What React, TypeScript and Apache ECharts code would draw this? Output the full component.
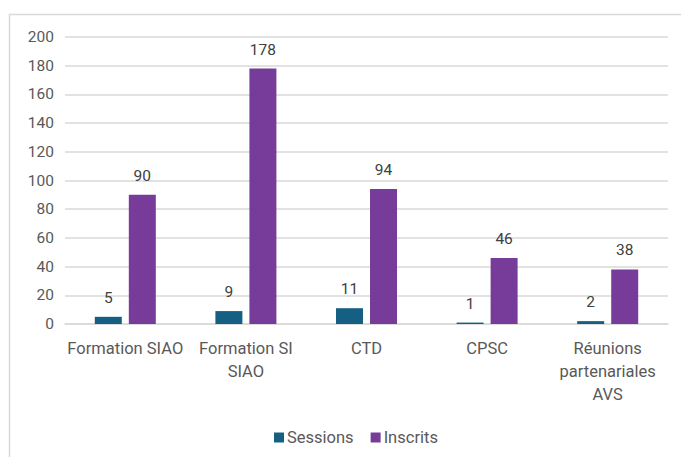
import React, { useEffect, useRef } from "react";
import * as echarts from "echarts";

const categories = ["Formation SIAO", "Formation SI\nSIAO", "CTD", "CPSC", "Réunions\npartenariales\nAVS"];
const sessions = [5, 9, 11, 1, 2];
const inscrits = [90, 178, 94, 46, 38];
const seriesNames = ["Sessions", "Inscrits"];
const yTicks = { min: 0, max: 200, interval: 20 };

export default function App() {
  const ref = useRef<HTMLDivElement>(null);
  useEffect(() => {
    document.body.style.margin = "0";
    const chart = echarts.init(ref.current!, null, { renderer: "svg" });
    const font = "Roboto";
    const labelStyle = {
      show: true,
      position: "top" as const,
      distance: 11,
      color: "#404040",
      fontSize: 15.5,
      fontFamily: font,
    };
    chart.setOption({
      animation: false,
      backgroundColor: "#ffffff",
      textStyle: { fontFamily: font },
      graphic: [
        {
          type: "rect",
          shape: { x: 9.5, y: 14.5, width: 700, height: 500 },
          style: { fill: "none", stroke: "#d9d9d9", lineWidth: 1.5 },
          silent: true,
        },
      ],
      grid: { left: 65, right: 13, top: 37, bottom: 133, containLabel: false },
      legend: {
        bottom: 6,
        left: 269,
        itemWidth: 10,
        itemHeight: 10,
        itemGap: 17,
        icon: "rect",
        textStyle: { color: "#595959", fontSize: 16.5, fontFamily: font, padding: [0, 0, 0, -2] },
        data: seriesNames,
      },
      xAxis: {
        type: "category",
        data: categories,
        axisLine: { lineStyle: { color: "#d9d9d9", width: 1.5 } },
        axisTick: { show: false },
        axisLabel: {
          color: "#595959",
          fontSize: 16.5,
          fontFamily: font,
          margin: 13,
          lineHeight: 23,
          interval: 0,
        },
      },
      yAxis: {
        type: "value",
        min: yTicks.min,
        max: yTicks.max,
        interval: yTicks.interval,
        axisLine: { show: false },
        axisTick: { show: false },
        splitLine: { lineStyle: { color: "#d9d9d9", width: 1.5 } },
        axisLabel: { color: "#595959", fontSize: 15.5, fontFamily: font, margin: 11 },
      },
      series: [
        {
          name: seriesNames[0],
          type: "bar",
          data: sessions,
          barWidth: 27,
          barGap: "26%",
          itemStyle: { color: "#156082" },
          label: labelStyle,
        },
        {
          name: seriesNames[1],
          type: "bar",
          data: inscrits,
          barWidth: 27,
          barGap: "26%",
          itemStyle: { color: "#773c99" },
          label: labelStyle,
        },
      ],
    });
    return () => chart.dispose();
  }, []);
  return <div ref={ref} style={{ width: 681, height: 457 }} />;
}
